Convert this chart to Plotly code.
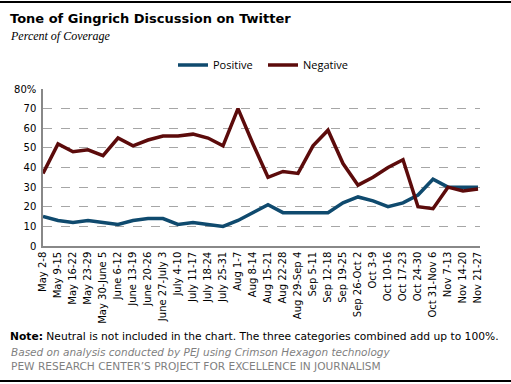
import plotly.graph_objects as go

categories = ["May 2-8", "May 9-15", "May 16-22", "May 23-29", "May 30-June 5",
              "June 6-12", "June 13-19", "June 20-26", "June 27-July 3", "July 4-10",
              "July 11-17", "July 18-24", "July 25-31", "Aug 1-7", "Aug 8-14",
              "Aug 15-21", "Aug 22-28", "Aug 29-Sep 4", "Sep 5-11", "Sep 12-18",
              "Sep 19-25", "Sep 26-Oct 2", "Oct 3-9", "Oct 10-16", "Oct 17-23",
              "Oct 24-30", "Oct 31-Nov 6", "Nov 7-13", "Nov 14-20", "Nov 21-27"]
positive = [15, 13, 12, 13, 12, 11, 13, 14, 14, 11, 12, 11, 10, 13, 17,
            21, 17, 17, 17, 17, 22, 25, 23, 20, 22, 26, 34, 30, 30, 30]
negative = [37, 52, 48, 49, 46, 55, 51, 54, 56, 56, 57, 55, 51, 70, 52,
            35, 38, 37, 51, 59, 42, 31, 35, 40, 44, 20, 19, 30, 28, 29]
y_ticks = [0, 10, 20, 30, 40, 50, 60, 70, 80]
y_tick_labels = ["0", "10", "20", "30", "40", "50", "60", "70", "80%"]

W, H = 511, 384
PLOT_L, PLOT_R, PLOT_T, PLOT_B = 43, 478, 89, 246

def px(x):
    return x / W

def py(y):
    return 1 - y / H

fig = go.Figure()
fig.add_trace(go.Scatter(x=categories, y=positive, mode="lines", name="Positive",
                         line=dict(color="#0f4a6e", width=3.5)))
fig.add_trace(go.Scatter(x=categories, y=negative, mode="lines", name="Negative",
                         line=dict(color="#5c0b0b", width=3.5)))

fig.update_layout(
    width=W, height=H,
    margin=dict(l=0, r=0, t=0, b=0, autoexpand=False),
    paper_bgcolor="white", plot_bgcolor="white",
    font=dict(family="DejaVu Sans", size=10, color="#000"),
    showlegend=True,
    legend=dict(orientation="h", x=px(173), y=py(65), xanchor="left", yanchor="middle",
                font=dict(family="Open Sans", size=11, color="#000"),
                bgcolor="rgba(0,0,0,0)", itemwidth=30, tracegroupgap=0,
                entrywidth=45, entrywidthmode="pixels"),
    xaxis=dict(type="category", range=[0, 29.15], showgrid=False, tickangle=-90,
               domain=[px(PLOT_L), px(PLOT_L) + (PLOT_R - PLOT_L) * 29.15 / 29 / W],
               tickfont=dict(family="DejaVu Sans", size=10, color="#000"),
               showline=True, linecolor="#888", linewidth=1.5, ticks="",
               automargin=False, fixedrange=True),
    yaxis=dict(range=[0, 80], tickvals=y_ticks, ticktext=y_tick_labels,
               domain=[py(PLOT_B), py(PLOT_T)],
               showgrid=True, gridcolor="#a6a6a6", griddash="dash", gridwidth=1,
               showline=True, linecolor="#888", linewidth=1.5, zeroline=False,
               tickfont=dict(family="DejaVu Sans", size=10, color="#000"),
               ticks="", ticklabelstandoff=3, automargin=False, fixedrange=True),
)

annotations = [
    dict(text="<b>Tone of Gingrich Discussion on Twitter</b>", x=px(8), y=py(18),
         font=dict(family="DejaVu Sans", size=13, color="#000")),
    dict(text="<i>Percent of Coverage</i>", x=px(8), y=py(36),
         font=dict(family="Liberation Serif", size=12, color="#000")),
    dict(text="<b>Note:</b> Neutral is not included in the chart. The three categories combined add up to 100%.",
         x=px(8), y=py(336), font=dict(family="DejaVu Sans", size=10.7, color="#000")),
    dict(text="<i>Based on analysis conducted by PEJ using Crimson Hexagon technology</i>",
         x=px(9), y=py(352), font=dict(family="DejaVu Sans", size=10.5, color="#7f7f7f")),
    dict(text="PEW RESEARCH CENTER\u2019S PROJECT FOR EXCELLENCE IN JOURNALISM",
         x=px(9), y=py(366), font=dict(family="DejaVu Sans", size=10.6, color="#7f7f7f")),
]
for a in annotations:
    a.update(xref="paper", yref="paper", xanchor="left", yanchor="middle",
             showarrow=False, align="left")
fig.update_layout(annotations=annotations)

# top and bottom black rules
for yy in (2, 381):
    fig.add_shape(type="line", xref="paper", yref="paper", x0=0, x1=1,
                  y0=py(yy), y1=py(yy), line=dict(color="#000", width=2))

fig.write_html("out.html", config={"displayModeBar": False},
               post_script="document.body.style.margin='0';document.body.style.overflow='hidden';")
